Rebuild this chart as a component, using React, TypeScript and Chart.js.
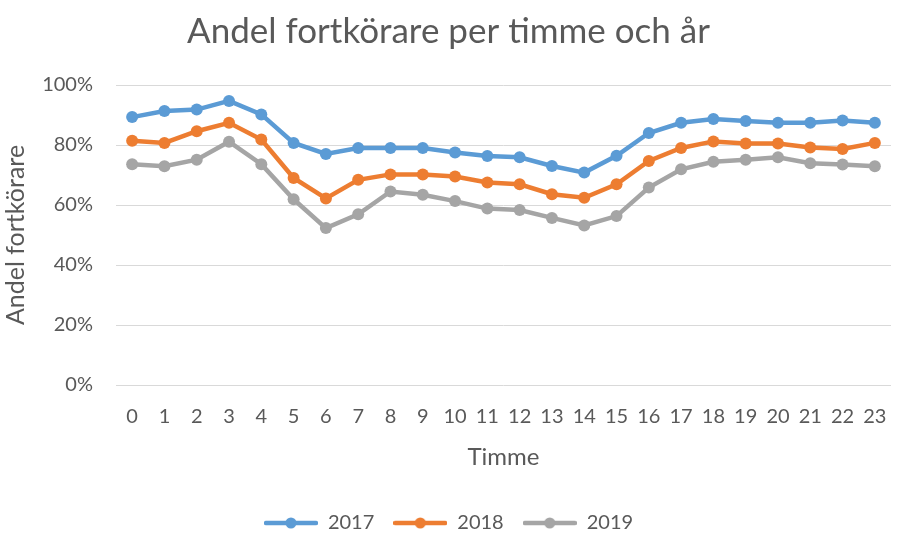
import React, { useEffect, useRef } from "react";
import { Chart, registerables } from "chart.js";

Chart.register(...registerables);

const hours = ["0","1","2","3","4","5","6","7","8","9","10","11","12","13","14","15","16","17","18","19","20","21","22","23"];
const y2017 = [89.3,91.3,91.8,94.7,90.2,80.7,77,79,79,79,77.5,76.3,75.9,73,70.8,76.4,84,87.4,88.7,88,87.4,87.4,88.2,87.4];
const y2018 = [81.4,80.7,84.6,87.4,81.8,69,62.2,68.4,70.2,70.2,69.5,67.5,66.9,63.6,62.4,66.9,74.7,79,81.2,80.5,80.5,79.2,78.7,80.7];
const y2019 = [73.6,72.9,75.1,81.1,73.6,61.9,52.3,56.9,64.5,63.4,61.3,58.8,58.3,55.7,53.2,56.3,65.8,71.9,74.4,75.1,75.9,73.9,73.5,72.9];
const seriesNames = ["2017", "2018", "2019"];
const colors = ["#5B9BD5", "#ED7D31", "#A5A5A5"];

const FONT = "Lato, 'Open Sans', sans-serif";
const TEXT = "#595959";

function legendIcon(color: string): HTMLCanvasElement {
  const c = document.createElement("canvas");
  c.width = 54;
  c.height = 14;
  const g = c.getContext("2d")!;
  g.strokeStyle = color;
  g.lineWidth = 4.5;
  g.lineCap = "round";
  g.beginPath();
  g.moveTo(2, 7);
  g.lineTo(52, 7);
  g.stroke();
  g.fillStyle = color;
  g.beginPath();
  g.arc(27, 7, 5.5, 0, Math.PI * 2);
  g.fill();
  return c;
}

export default function App() {
  const ref = useRef<HTMLCanvasElement | null>(null);
  useEffect(() => {
    document.body.style.margin = "0";
    if (!ref.current) return;
    const icons = colors.map(legendIcon);
    const data = [y2017, y2018, y2019];
    const chart = new Chart(ref.current, {
      type: "line",
      data: {
        labels: hours,
        datasets: seriesNames.map((n, i) => ({
          label: n,
          data: data[i],
          borderColor: colors[i],
          backgroundColor: colors[i],
          borderWidth: 4.5,
          pointRadius: 6,
          pointBackgroundColor: colors[i],
          pointBorderWidth: 0,
          tension: 0,
        })),
      },
      options: {
        animation: false,
        responsive: false,
        layout: { padding: { top: 0, left: 0, right: 0, bottom: -9 } },
        plugins: {
          title: {
            display: true,
            text: "Andel fortkörare per timme och år",
            color: TEXT,
            font: { family: FONT, size: 35, weight: "normal" },
            padding: { top: 11, bottom: 32 },
          },
          legend: {
            position: "bottom",
            labels: {
              color: TEXT,
              font: { family: FONT, size: 20 },
              usePointStyle: true,
              pointStyleWidth: 54,
              padding: 19,
              generateLabels: (ch: any) => {
                const items = Chart.defaults.plugins.legend.labels.generateLabels(ch);
                return items.map((it: any, i: number) => ({ ...it, pointStyle: icons[i] }));
              },
            },
          },
          tooltip: { enabled: false },
        },
        scales: {
          x: {
            offset: true,
            grid: { display: false, drawTicks: false },
            border: { display: false },
            ticks: { color: TEXT, font: { family: FONT, size: 20 }, padding: 20, maxRotation: 0, autoSkip: false },
            title: {
              display: true,
              text: "Timme",
              color: TEXT,
              font: { family: FONT, size: 24 },
              padding: { top: 0, bottom: 22 },
            },
            afterFit: (s: any) => {
              s.height = 109;
              s.paddingLeft = 0;
              s.paddingRight = 0;
            },
          },
          y: {
            min: 0,
            max: 100,
            grid: { color: "#D9D9D9", lineWidth: 1, drawTicks: false },
            border: { display: false },
            ticks: {
              stepSize: 20,
              color: TEXT,
              font: { family: FONT, size: 20 },
              padding: 23,
              callback: (v: any) => v + "%",
            },
            title: {
              display: true,
              text: "Andel fortkörare",
              color: TEXT,
              font: { family: FONT, size: 25 },
              padding: { top: 1, bottom: 0 },
            },
            afterFit: (s: any) => { s.width = 116; },
          },
        },
      },
    });
    return () => chart.destroy();
  }, []);
  return (
    <div style={{ width: 897, height: 534, overflow: "hidden", background: "#fff" }}>
      <canvas ref={ref} width={897} height={534} style={{ display: "block" }} />
    </div>
  );
}
